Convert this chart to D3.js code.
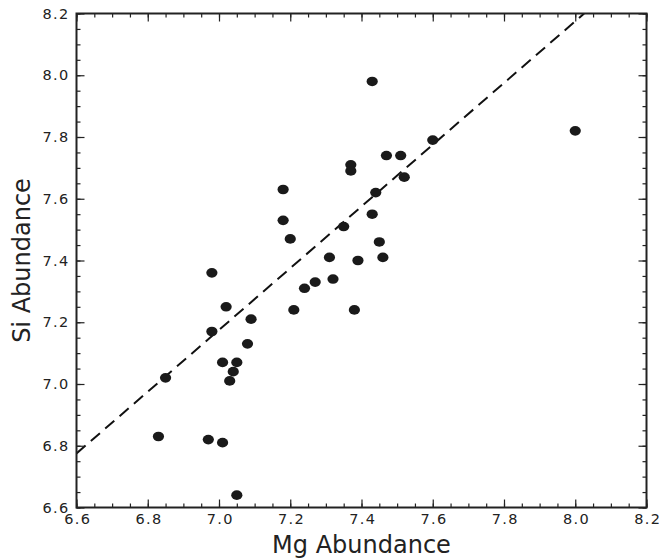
<!DOCTYPE html>
<html>
<head>
<meta charset="utf-8">
<script src="https://cdn.jsdelivr.net/npm/d3@7"></script>
<style>
  html, body { margin: 0; padding: 0; background: #fff; }
  svg { display: block; font-family: "DejaVu Sans", sans-serif; }
</style>
</head>
<body>
<svg id="chart" width="659" height="558"></svg>
<script>
// Data
const mgValues = [6.83, 6.85, 6.97, 7.01, 7.05, 6.98, 6.98, 7.02, 7.01, 7.05, 7.04, 7.03, 7.09, 7.08,
  7.18, 7.18, 7.20, 7.21, 7.24, 7.27, 7.31, 7.32, 7.35, 7.37, 7.37, 7.38, 7.39, 7.43, 7.43, 7.44,
  7.45, 7.46, 7.47, 7.51, 7.52, 7.60, 8.00];
const siValues = [6.83, 7.02, 6.82, 6.81, 6.64, 7.36, 7.17, 7.25, 7.07, 7.07, 7.04, 7.01, 7.21, 7.13,
  7.63, 7.53, 7.47, 7.24, 7.31, 7.33, 7.41, 7.34, 7.51, 7.71, 7.69, 7.24, 7.40, 7.98, 7.55, 7.62,
  7.46, 7.41, 7.74, 7.74, 7.67, 7.79, 7.82];
const fitX = [6.6, 8.025];
const fitY = [6.775, 8.2];
const xTicks = [6.6, 6.8, 7.0, 7.2, 7.4, 7.6, 7.8, 8.0, 8.2];
const yTicks = [6.6, 6.8, 7.0, 7.2, 7.4, 7.6, 7.8, 8.0, 8.2];
const xLabel = "Mg Abundance";
const yLabel = "Si Abundance";

const svg = d3.select("#chart");
const mLeft = 76.5, mRight = 646.5, mTop = 13.5, mBottom = 507.5;
const x = d3.scaleLinear().domain([6.6, 8.2]).range([mLeft, mRight]);
const y = d3.scaleLinear().domain([6.6, 8.2]).range([mBottom, mTop]);

const minorX = d3.range(0, 33).map(i => 6.6 + i * 0.05);
const minorY = minorX;
const axisColor = "#222";

// clip
svg.append("defs").append("clipPath").attr("id", "clip")
  .append("rect").attr("x", mLeft).attr("y", mTop).attr("width", mRight - mLeft).attr("height", mBottom - mTop);

// fit line
svg.append("line")
  .attr("clip-path", "url(#clip)")
  .attr("x1", x(fitX[0])).attr("y1", y(fitY[0]))
  .attr("x2", x(fitX[1])).attr("y2", y(fitY[1]))
  .attr("stroke", "#111").attr("stroke-width", 2)
  .attr("stroke-dasharray", "12,7");

// points
svg.append("g").selectAll("ellipse").data(mgValues).join("ellipse")
  .attr("cx", (d, i) => x(d)).attr("cy", (d, i) => y(siValues[i]))
  .attr("rx", 5.6).attr("ry", 4.8)
  .attr("fill", "#1a1a1a");

function innerAxis(axisGen, transform) {
  const g = svg.append("g").attr("transform", transform).call(axisGen);
  g.select(".domain").remove();
  g.selectAll(".tick line").attr("stroke", axisColor).attr("stroke-width", 1.2);
  return g;
}
// minor ticks
innerAxis(d3.axisBottom(x).tickValues(minorX).tickSize(-4).tickFormat(""), `translate(0,${mBottom})`);
innerAxis(d3.axisTop(x).tickValues(minorX).tickSize(-4).tickFormat(""), `translate(0,${mTop})`);
innerAxis(d3.axisLeft(y).tickValues(minorY).tickSize(-4).tickFormat(""), `translate(${mLeft},0)`);
innerAxis(d3.axisRight(y).tickValues(minorY).tickSize(-4).tickFormat(""), `translate(${mRight},0)`);
// major ticks
const gx = innerAxis(d3.axisBottom(x).tickValues(xTicks).tickSize(-8).tickFormat(d3.format(".1f")), `translate(0,${mBottom})`);
innerAxis(d3.axisTop(x).tickValues(xTicks).tickSize(-8).tickFormat(""), `translate(0,${mTop})`);
const gy = innerAxis(d3.axisLeft(y).tickValues(yTicks).tickSize(-8).tickFormat(d3.format(".1f")), `translate(${mLeft},0)`);
innerAxis(d3.axisRight(y).tickValues(yTicks).tickSize(-8).tickFormat(""), `translate(${mRight},0)`);

[gx, gy].forEach(g => g.selectAll(".tick text")
  .attr("font-family", "DejaVu Sans, sans-serif").attr("font-size", 14.5)
  .attr("letter-spacing", 1.3).attr("fill", "#222"));
gy.selectAll(".tick text").attr("x", -7);
gx.selectAll(".tick text").attr("y", 6).attr("dx", 0.7);

// frame
svg.append("rect").attr("x", mLeft).attr("y", mTop).attr("width", mRight - mLeft).attr("height", mBottom - mTop)
  .attr("fill", "none").attr("stroke", axisColor).attr("stroke-width", 2);

// labels
svg.append("text").attr("x", (mLeft + mRight) / 2).attr("y", 553)
  .attr("text-anchor", "middle").attr("font-size", 24).attr("fill", "#222").text(xLabel);
svg.append("text").attr("transform", `translate(30,${(mTop + mBottom) / 2}) rotate(-90)`)
  .attr("text-anchor", "middle").attr("font-size", 24).attr("fill", "#222").text(yLabel);
</script>
</body>
</html>
